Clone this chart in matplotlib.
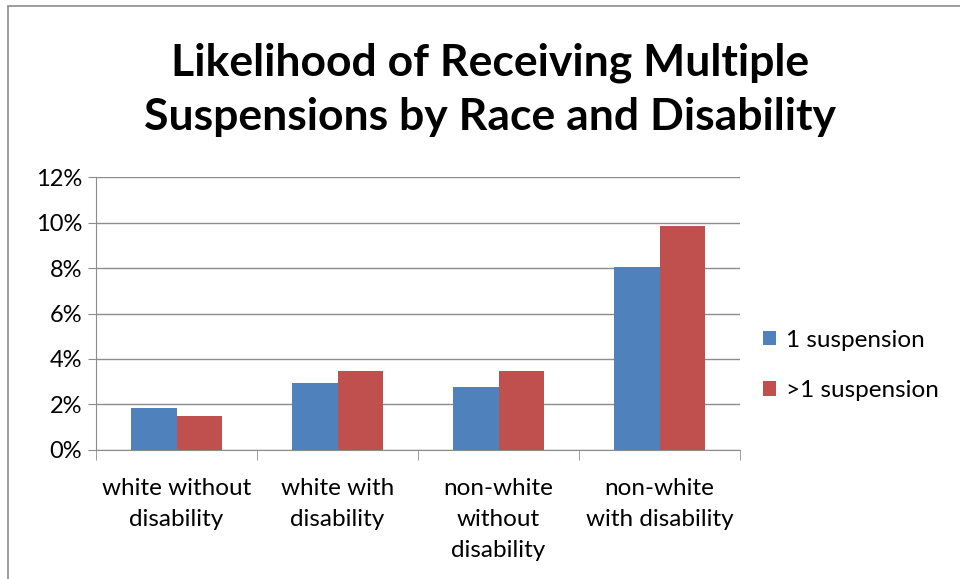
import matplotlib
matplotlib.use("Agg")
import matplotlib.pyplot as plt
import numpy as np
from matplotlib.patches import Rectangle
from matplotlib.ticker import FixedLocator, FuncFormatter

categories = ["white without\ndisability", "white with\ndisability",
              "non-white\nwithout\ndisability", "non-white\nwith disability"]
one_susp = [1.86, 2.95, 2.77, 8.06]
multi_susp = [1.47, 3.45, 3.45, 9.86]
series_names = ["1 suspension", ">1 suspension"]
colors = ["#4F81BD", "#C0504D"]

plt.rcParams["font.family"] = ["Lato", "DejaVu Sans"]

fig = plt.figure(figsize=(9.6, 5.79), dpi=100)
ax = fig.add_axes([0.1, 0.223, 0.671, 0.471])

x = np.arange(len(categories))
w = 0.283
ax.bar(x - w / 2, one_susp, w, color=colors[0], label=series_names[0])
ax.bar(x + w / 2, multi_susp, w, color=colors[1], label=series_names[1])

ax.set_xlim(-0.5, len(categories) - 0.5)
ax.set_ylim(0, 12)
ax.set_yticks(np.arange(0, 13, 2))
ax.yaxis.set_major_formatter(FuncFormatter(lambda v, p: f"{v:.0f}%"))
ax.grid(axis="y", color="#8c8c8c", linewidth=1)
ax.set_axisbelow(True)

ax.set_xticks(x)
ax.set_xticklabels(categories, fontsize=17.5, linespacing=1.6)
ax.xaxis.set_minor_locator(FixedLocator(np.arange(-0.5, len(categories), 1)))
ax.tick_params(axis="x", which="major", length=0, pad=20)
ax.tick_params(axis="x", which="minor", length=7, color="#8c8c8c", direction="out")
ax.tick_params(axis="y", length=6, color="#8c8c8c", labelsize=17, pad=4)

for side in ["top", "right"]:
    ax.spines[side].set_visible(False)
for side in ["left", "bottom"]:
    ax.spines[side].set_color("#8c8c8c")

fig.text(0.51, 0.845, "Likelihood of Receiving Multiple\nSuspensions by Race and Disability",
         ha="center", va="center", fontsize=32, fontweight="bold", linespacing=1.45)

fig.legend(loc="center left", bbox_to_anchor=(0.772, 0.369), frameon=False, fontsize=17.5,
           handlelength=0.55, handleheight=0.55, handletextpad=0.4, labelspacing=1.2)

fig.patches.append(Rectangle((0.008, -0.1), 1.2, 1.09, transform=fig.transFigure,
                             fill=False, edgecolor="#8c8c8c", linewidth=1.2))

fig.savefig("out.png", dpi=100)
